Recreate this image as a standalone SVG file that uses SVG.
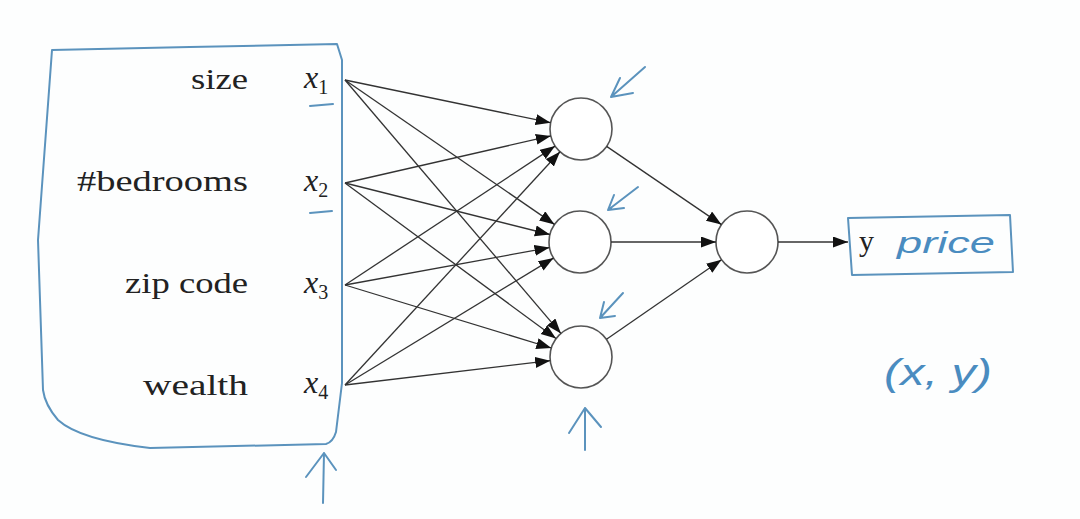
<svg xmlns="http://www.w3.org/2000/svg" width="1080" height="519" viewBox="0 0 1080 519">
<defs>
<marker id="ah" markerWidth="16" markerHeight="12" refX="15" refY="5.5" orient="auto" markerUnits="userSpaceOnUse">
<path d="M0,0 L15,5.5 L0,11 Z" fill="#111"/>
</marker>
<style>
.lbl{font-family:"Liberation Serif",serif;font-size:30px;fill:#222;text-anchor:end}
.xv{font-family:"Liberation Serif",serif;font-size:32px;font-style:italic;fill:#222}
.sub{font-family:"Liberation Serif",serif;font-size:20px;fill:#222}
.node{fill:#fff;stroke:#555;stroke-width:1.6}
.conn line{stroke:#333;stroke-width:1.3;marker-end:url(#ah)}
.blue{fill:none;stroke:#5b93bd;stroke-width:2;stroke-linecap:round;stroke-linejoin:round}
.hand{font-family:"Liberation Sans",sans-serif;font-style:italic;fill:#4a8cc0}
</style>
</defs>
<rect width="1080" height="519" fill="#fdfefe"/>

<g id="input-box">
<path class="blue" d="M52,50 L190,47 L337,44 L342,60 L342,383 L336,432 Q333,442 326,444 L150,448 Q80,440 58,420 Q45,405 43,390 L38,240 Z"/>
<text class="lbl" x="248" y="89" textLength="57" lengthAdjust="spacingAndGlyphs">size</text>
<text class="lbl" x="248" y="191" textLength="171" lengthAdjust="spacingAndGlyphs">#bedrooms</text>
<text class="lbl" x="248" y="293" textLength="123" lengthAdjust="spacingAndGlyphs">zip code</text>
<text class="lbl" x="248" y="395" textLength="105" lengthAdjust="spacingAndGlyphs">wealth</text>
<text class="xv" x="304" y="88">x<tspan class="sub" dy="6" font-style="normal">1</tspan></text>
<text class="xv" x="304" y="191">x<tspan class="sub" dy="6" font-style="normal">2</tspan></text>
<text class="xv" x="304" y="293">x<tspan class="sub" dy="6" font-style="normal">3</tspan></text>
<text class="xv" x="304" y="393">x<tspan class="sub" dy="6" font-style="normal">4</tspan></text>
<path class="blue" d="M310,106 L333,104"/>
<path class="blue" d="M310,213 L332,211"/>
<path class="blue" d="M323,503 L324,453 M306,477 L324,453 L336,470"/>
</g>

<g id="hidden1"><circle class="node" cx="581" cy="129" r="31"/></g>
<g id="hidden2"><circle class="node" cx="580" cy="242" r="31"/></g>
<g id="hidden3"><circle class="node" cx="581" cy="357" r="31"/></g>
<g id="output"><circle class="node" cx="747" cy="242" r="31"/></g>

<g id="y-box">
<path class="blue" d="M848,218 L1010,215 L1013,272 L852,275 Z"/>
<text x="859" y="251" font-family="Liberation Serif,serif" font-size="30" fill="#222">y</text>
<text class="hand" x="897" y="253" font-size="29" textLength="98" lengthAdjust="spacingAndGlyphs">price</text>
</g>

<g id="annotations">
<path class="blue" d="M645,67 L611,97 M620,78 L611,97 L633,93"/>
<path class="blue" d="M638,187 L608,210 M614,195 L608,210 L624,208"/>
<path class="blue" d="M623,293 L600,318 M604,302 L600,318 L615,316"/>
<path class="blue" d="M585,450 L585,408 M569,433 L585,408 L601,427"/>
<text class="hand" x="884" y="385" font-size="36" textLength="108" lengthAdjust="spacingAndGlyphs">(x, y)</text>
</g>

<g class="conn" id="connectors">
<line x1="345" y1="80" x2="550.6" y2="122.7"/>
<line x1="345" y1="80" x2="554.5" y2="224.4"/>
<line x1="345" y1="80" x2="560.9" y2="333.4"/>
<line x1="345" y1="183" x2="550.8" y2="135.9"/>
<line x1="345" y1="183" x2="549.9" y2="234.5"/>
<line x1="345" y1="183" x2="556.0" y2="338.6"/>
<line x1="345" y1="285" x2="555.1" y2="146.1"/>
<line x1="345" y1="285" x2="549.5" y2="247.6"/>
<line x1="345" y1="285" x2="551.3" y2="348.0"/>
<line x1="345" y1="385" x2="560.0" y2="151.8"/>
<line x1="345" y1="385" x2="553.5" y2="258.1"/>
<line x1="345" y1="385" x2="550.2" y2="360.7"/>
<line x1="606.6" y1="146.4" x2="721.4" y2="224.6"/>
<line x1="611" y1="242" x2="716" y2="242"/>
<line x1="606.5" y1="339.3" x2="721.5" y2="259.7"/>
<line x1="778" y1="242" x2="848" y2="242"/>
</g>
</svg>
